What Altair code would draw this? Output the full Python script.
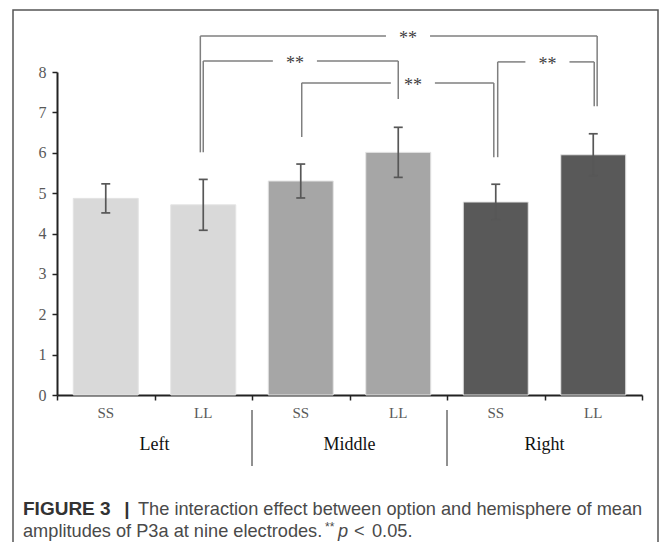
import altair as alt
import pandas as pd

# ---- data ----
hemispheres = ["Left", "Left", "Middle", "Middle", "Right", "Right"]
options = ["SS", "LL", "SS", "LL", "SS", "LL"]
means = [4.87, 4.71, 5.30, 6.01, 4.78, 5.95]
errors = [0.36, 0.63, 0.42, 0.62, 0.44, 0.52]
group_names = ["Left", "Middle", "Right"]
bar_colors = ["#d9d9d9", "#a6a6a6", "#595959"]
y_ticks = [0, 1, 2, 3, 4, 5, 6, 7, 8]

# significance brackets (x in bar-slot units, y in data units)
br_left = [1.47, 1.50, 2.51, 4.52]
br_right = [5.54, 3.50, 4.48, 5.51]
br_level = [8.89, 8.27, 7.73, 8.25]
br_left_end = [6.01, 6.01, 6.39, 5.89]
br_right_end = [7.15, 7.33, 5.89, 7.15]
br_label_pos = [3.60, 2.44, 3.65, 5.03]
br_labels = ["**", "**", "**", "**"]

caption_bold = "FIGURE 3"
caption_line1 = "The interaction effect between option and hemisphere of mean"
caption_line2 = "amplitudes of P3a at nine electrodes."

# ---- derived tables ----
n = len(means)
bars = pd.DataFrame({
    "hemisphere": hemispheres,
    "option": options,
    "mean": means,
    "x0": [i + 1 / 6 for i in range(n)],
    "x1": [i + 5 / 6 for i in range(n)],
    "xc": [i + 0.5 for i in range(n)],
    "lo": [m - e for m, e in zip(means, errors)],
    "hi": [m + e for m, e in zip(means, errors)],
})
cap_half = 0.046
caps = pd.DataFrame({
    "xa": [i + 0.5 - cap_half for i in range(n)] * 2,
    "xb": [i + 0.5 + cap_half for i in range(n)] * 2,
    "yv": [m + e for m, e in zip(means, errors)] + [m - e for m, e in zip(means, errors)],
})

gap = 0.226
segs = []
for L, R, lev, le, re_, lp in zip(br_left, br_right, br_level, br_left_end, br_right_end, br_label_pos):
    segs.append({"xa": L, "xb": lp - gap, "ya": lev, "yb": lev})
    segs.append({"xa": lp + gap, "xb": R, "ya": lev, "yb": lev})
    segs.append({"xa": L, "xb": L, "ya": lev, "yb": le})
    segs.append({"xa": R, "xb": R, "ya": lev, "yb": re_})
segs = pd.DataFrame(segs)
stars = pd.DataFrame({"xs": br_label_pos, "ys": br_level, "t": br_labels})

groups = pd.DataFrame({"g": group_names, "gc": [1, 3, 5]})
seps = pd.DataFrame({"xs": [2, 4]})

# ---- scales / axes ----
xs = alt.Scale(domain=[0, 6], nice=False, zero=False)
ys = alt.Scale(domain=[0, 8], nice=False)
xaxis = alt.Axis(values=[0, 1, 2, 3, 4, 5, 6], labels=False, title=None, grid=False,
                 tickSize=5, tickColor="#222222", tickWidth=1.5,
                 domainColor="#222222", domainWidth=2)
yaxis = alt.Axis(values=y_ticks, title=None, grid=False, tickSize=5, tickColor="#222222",
                 tickWidth=1.5, domainColor="#222222", domainWidth=2, labelPadding=6,
                 labelFont="Liberation Serif", labelFontSize=16, labelColor="#595959")


def X(f):
    return alt.X(f, type="quantitative", scale=xs, axis=xaxis)


def Y(f):
    return alt.Y(f, type="quantitative", scale=ys, axis=yaxis)


one = pd.DataFrame({"k": [0]})

border = alt.Chart(one).mark_rect(fillOpacity=0, stroke="#555555", strokeWidth=1.5).encode(
    x=alt.value(-44), x2=alt.value(601), y=alt.value(-62), y2=alt.value(600))

bar_layer = alt.Chart(bars).mark_bar(stroke="#e4e4e4", strokeWidth=1).encode(
    x=X("x0"), x2="x1", y=Y("mean"), y2=alt.datum(0),
    color=alt.Color("hemisphere", scale=alt.Scale(domain=group_names, range=bar_colors), legend=None))

err_layer = alt.Chart(bars).mark_rule(color="#575757", strokeWidth=1.7).encode(
    x=X("xc"), y=Y("lo"), y2="hi")

cap_layer = alt.Chart(caps).mark_rule(color="#575757", strokeWidth=1.7).encode(
    x=X("xa"), x2="xb", y=Y("yv"))

br_layer = alt.Chart(segs).mark_rule(color="#7f7f7f", strokeWidth=1.5).encode(
    x=X("xa"), x2="xb", y=Y("ya"), y2="yb")

star_layer = alt.Chart(stars).mark_text(font="Liberation Serif", fontSize=18, color="#404040",
                                        baseline="alphabetic", dy=8).encode(
    x=X("xs"), y=Y("ys"), text="t")

opt_layer = alt.Chart(bars).mark_text(font="Liberation Serif", fontSize=15, color="#595959",
                                      baseline="middle").encode(
    x=X("xc"), y=alt.value(341), text="option")

grp_layer = alt.Chart(groups).mark_text(font="Liberation Serif", fontSize=18, color="#111111",
                                        baseline="middle").encode(
    x=X("gc"), y=alt.value(373), text="g")

sep_layer = alt.Chart(seps).mark_rule(color="#222222", strokeWidth=1).encode(
    x=X("xs"), y=alt.value(338), y2=alt.value(394))


def cap_text(txt, x, y, size=18.2, weight="normal", style="normal", color="#4a4a4a", align="left", dy=0):
    return alt.Chart(pd.DataFrame({"t": [txt]})).mark_text(
        font="Liberation Sans", fontSize=size, fontWeight=weight, fontStyle=style, color=color,
        align=align, baseline="alphabetic", dy=dy).encode(x=alt.value(x), y=alt.value(y), text="t")


captions = [
    cap_text(caption_bold, -34, 443, size=19, weight="bold", color="#333333"),
    cap_text("|", 70, 443, size=19, weight="bold", color="#333333", align="center"),
    cap_text(caption_line1, 81, 443),
    cap_text(caption_line2, -34, 465),
    cap_text("**", 268, 465, size=12, dy=-6),
    cap_text("p", 281, 465, style="italic"),
    cap_text("<", 297, 465),
    cap_text("0.05.", 315, 465),
]

chart = alt.layer(
    border, bar_layer, err_layer, cap_layer, br_layer, star_layer,
    opt_layer, grp_layer, sep_layer, *captions
).properties(
    width=585, height=323,
    autosize=alt.AutoSizeParams(type="none"),
    padding={"left": 49, "top": 64, "right": 17, "bottom": 147},
    background="white",
).configure_view(strokeWidth=0)

chart.save("out.html", embed_options={"renderer": "svg", "actions": False})
